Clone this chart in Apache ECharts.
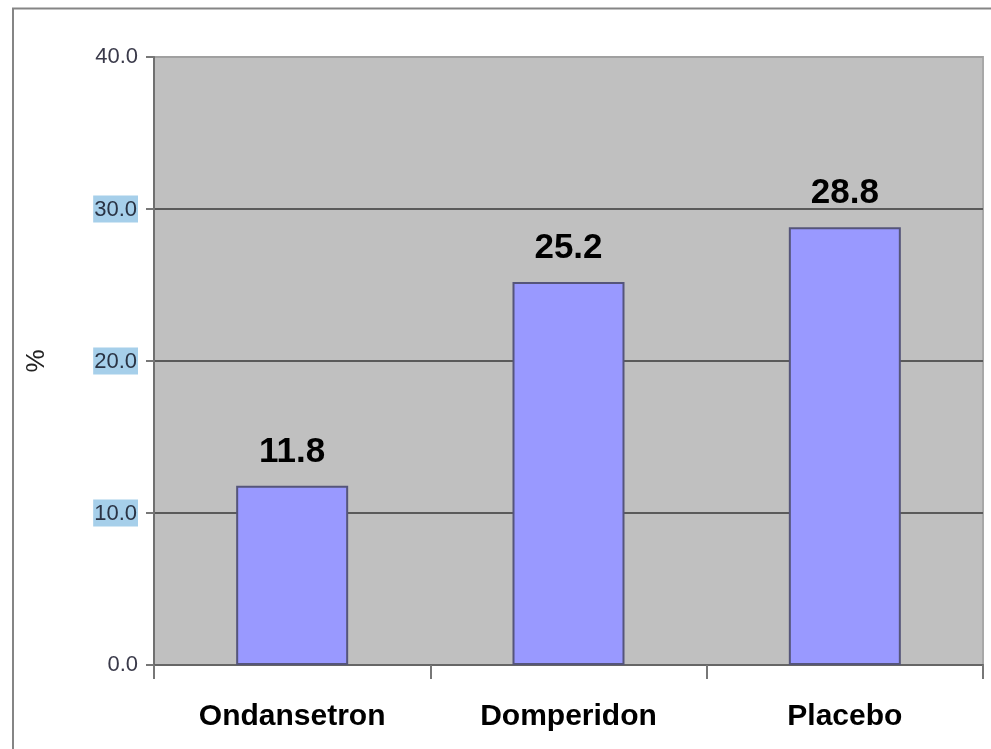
<!DOCTYPE html>
<html>
<head>
<meta charset="utf-8">
<script src="https://cdn.jsdelivr.net/npm/echarts@6/dist/echarts.min.js"></script>
<style>
  html, body { margin: 0; padding: 0; background: #ffffff; }
  #chart { width: 991px; height: 749px; }
</style>
</head>
<body>
<div id="chart"></div>
<script>
// Share of patients per treatment group (%)
const categories = ['Ondansetron', 'Domperidon', 'Placebo'];
const percentValues = [11.8, 25.2, 28.8];
// Value-axis range and step
const yMin = 0;
const yMax = 40;
const yStep = 10;
// Tick labels drawn with a highlighted background
const highlightedTicks = ['10.0', '20.0', '30.0'];

const chart = echarts.init(document.getElementById('chart'), null, { renderer: 'canvas' });

chart.setOption({
  animation: false,
  backgroundColor: '#ffffff',
  textStyle: { fontFamily: 'Liberation Sans, Arial, sans-serif' },
  graphic: [
    {
      // chart frame (top and left edges)
      type: 'polyline',
      shape: { points: [[13, 749], [13, 8.5], [991, 8.5]] },
      style: { stroke: '#858585', lineWidth: 2, fill: null },
      silent: true
    }
  ],
  grid: {
    left: 154,
    top: 57,
    width: 829,
    height: 608,
    show: true,
    backgroundColor: '#c0c0c0',
    borderColor: '#a8a8a8',
    borderWidth: 2
  },
  xAxis: {
    type: 'category',
    data: categories,
    axisLine: { show: true, lineStyle: { color: '#666666', width: 2 } },
    axisTick: { show: true, alignWithLabel: false, length: 14, lineStyle: { color: '#777777', width: 2 } },
    axisLabel: {
      color: '#000000',
      fontWeight: 'bold',
      fontSize: 30,
      margin: 37
    },
    splitLine: { show: false }
  },
  yAxis: {
    type: 'value',
    min: yMin,
    max: yMax,
    interval: yStep,
    name: '%',
    nameLocation: 'middle',
    nameRotate: 90,
    nameGap: 104,
    nameTextStyle: { color: '#222222', fontSize: 26 },
    axisLine: { show: true, lineStyle: { color: '#707070', width: 2 } },
    axisTick: { show: true, length: 8, lineStyle: { color: '#777777', width: 2 } },
    axisLabel: {
      margin: 16,
      formatter: function (v) {
        const s = v.toFixed(1);
        return highlightedTicks.indexOf(s) >= 0 ? '{hl|' + s + '}' : '{n|' + s + '}';
      },
      rich: {
        n: { color: '#3a3a4a', fontSize: 22 },
        hl: { color: '#2a3344', fontSize: 22, backgroundColor: '#a6cfea', padding: [3, 1, 2, 1] }
      }
    },
    splitLine: {
      show: true,
      lineStyle: { color: ['#5a5a5a', '#5a5a5a', '#5a5a5a', '#5a5a5a', '#a0a0a0'], width: 2 }
    }
  },
  series: [
    {
      type: 'bar',
      data: percentValues,
      barWidth: 112,
      barCategoryGap: '59%',
      itemStyle: {
        color: '#9999ff',
        borderColor: '#55557a',
        borderWidth: 2
      },
      label: {
        show: true,
        position: 'top',
        distance: 16,
        color: '#000000',
        fontWeight: 'bold',
        fontSize: 35,
        formatter: function (p) { return p.value.toFixed(1); }
      }
    }
  ]
});
</script>
</body>
</html>
